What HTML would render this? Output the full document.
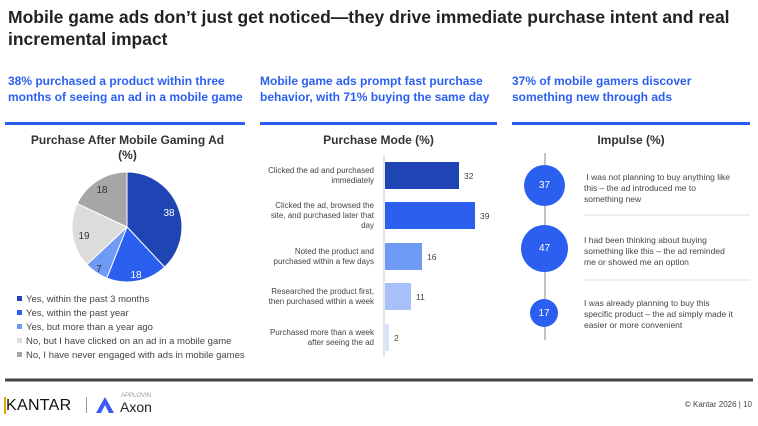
<!DOCTYPE html>
<html><head><meta charset="utf-8"><style>
body{margin:0;width:758px;height:426px;background:#fff;font-family:"Liberation Sans",Arial,sans-serif;position:relative;overflow:hidden}
.a{position:absolute}
h1{position:absolute;left:8px;top:6px;margin:0;font-size:17.5px;line-height:22px;font-weight:bold;color:#222;width:740px}
.sub{position:absolute;top:73px;font-size:12px;line-height:16px;font-weight:bold;color:#2b5ff0}
.bl{position:absolute;top:122px;height:3px;background:#2b5ff0}
.ct{position:absolute;font-size:12px;font-weight:bold;color:#333;text-align:center}
.lg{position:absolute;left:17px;font-size:9.5px;color:#444;white-space:nowrap}
.lg i{display:inline-block;width:5px;height:5px;margin-right:4px;vertical-align:1px}
.bt{position:absolute;right:384px;text-align:right;font-size:8px;line-height:10px;color:#444;width:112px}
.bar{position:absolute;left:385px;height:27px}
.bv{position:absolute;font-size:8.5px;color:#444}
.it{position:absolute;left:584px;font-size:8.5px;line-height:11px;color:#444;width:150px}
.c{position:absolute;border-radius:50%;background:#2b5ff0;color:#fff;font-size:10px;display:flex;align-items:center;justify-content:center}
</style></head><body>
<h1>Mobile game ads don’t just get noticed—they drive immediate purchase intent and real incremental impact</h1>
<div class="sub" style="left:8px;width:240px">38% purchased a product within three months of seeing an ad in a mobile game</div>
<div class="sub" style="left:260px;width:240px">Mobile game ads prompt fast purchase behavior, with 71% buying the same day</div>
<div class="sub" style="left:512px;width:240px">37% of mobile gamers discover something new through ads</div>
<div class="bl" style="left:5px;width:240px"></div>
<div class="bl" style="left:260px;width:237px"></div>
<div class="bl" style="left:512px;width:238px"></div>

<div class="ct" style="left:10px;width:235px;top:133px;line-height:15px">Purchase After Mobile Gaming Ad<br>(%)</div>
<svg class="a" style="left:0;top:0" width="758" height="426">
<g stroke="#fff" stroke-width="1">
<path d="M127 227 L127 172 A55 55 0 0 1 164.6 267.1Z" fill="#1f45b5"/>
<path d="M127 227 L164.6 267.1 A55 55 0 0 1 106.8 278.1Z" fill="#2b5ff0"/>
<path d="M127 227 L106.8 278.1 A55 55 0 0 1 86.9 264.6Z" fill="#6f9bf5"/>
<path d="M127 227 L86.9 264.6 A55 55 0 0 1 77.2 203.6Z" fill="#dcdcdc"/>
<path d="M127 227 L77.2 203.6 A55 55 0 0 1 127 172Z" fill="#a6a6a6"/>
</g>
<g font-family="Liberation Sans,Arial,sans-serif" font-size="10" text-anchor="middle">
<text x="169" y="216" fill="#fff">38</text>
<text x="136" y="278" fill="#fff">18</text>
<text x="99" y="272" fill="#333">7</text>
<text x="84" y="239" fill="#333">19</text>
<text x="102" y="193" fill="#333">18</text>
</g>
<line x1="384" y1="155" x2="384" y2="357" stroke="#ccc"/>
<line x1="545" y1="153" x2="545" y2="340" stroke="#888"/>
<line x1="584" y1="215" x2="750" y2="215" stroke="#ddd"/>
<line x1="584" y1="280" x2="750" y2="280" stroke="#ddd"/>
<line x1="5" y1="380" x2="753" y2="380" stroke="#444" stroke-width="3"/>
</svg>
<div class="lg" style="top:294px"><i style="background:#1f45b5"></i>Yes, within the past 3 months</div>
<div class="lg" style="top:308px"><i style="background:#2b5ff0"></i>Yes, within the past year</div>
<div class="lg" style="top:322px"><i style="background:#6f9bf5"></i>Yes, but more than a year ago</div>
<div class="lg" style="top:336px"><i style="background:#dcdcdc"></i>No, but I have clicked on an ad in a mobile game</div>
<div class="lg" style="top:350px"><i style="background:#a6a6a6"></i>No, I have never engaged with ads in mobile games</div>

<div class="ct" style="left:260px;width:237px;top:133px">Purchase Mode (%)</div>
<div class="bt" style="top:166px">Clicked the ad and purchased immediately</div>
<div class="bt" style="top:201px">Clicked the ad, browsed the site, and purchased later that day</div>
<div class="bt" style="top:247px">Noted the product and purchased within a few days</div>
<div class="bt" style="top:287px">Researched the product first, then purchased within a week</div>
<div class="bt" style="top:328px">Purchased more than a week after seeing the ad</div>
<div class="bar" style="top:162px;width:74px;background:#1f45b5"></div>
<div class="bar" style="top:202px;width:90px;background:#2b5ff0"></div>
<div class="bar" style="top:243px;width:37px;background:#6f9bf5"></div>
<div class="bar" style="top:283px;width:26px;background:#a7c1f8"></div>
<div class="bar" style="top:324px;width:4px;background:#d8e4fc"></div>
<div class="bv" style="left:464px;top:171px">32</div>
<div class="bv" style="left:480px;top:211px">39</div>
<div class="bv" style="left:427px;top:252px">16</div>
<div class="bv" style="left:416px;top:292px">11</div>
<div class="bv" style="left:394px;top:333px">2</div>

<div class="ct" style="left:512px;width:238px;top:133px">Impulse (%)</div>
<div class="c" style="left:524px;top:165px;width:41px;height:41px">37</div>
<div class="c" style="left:521px;top:225px;width:47px;height:47px">47</div>
<div class="c" style="left:530px;top:299px;width:28px;height:28px">17</div>
<div class="it" style="top:172px">&nbsp;I was not planning to buy anything like this – the ad introduced me to something new</div>
<div class="it" style="top:235px">I had been thinking about buying something like this – the ad reminded me or showed me an option</div>
<div class="it" style="top:298px">I was already planning to buy this specific product – the ad simply made it easier or more convenient</div>

<div class="a" style="left:4px;top:397px;font-size:16px;letter-spacing:0.3px;color:#111"><span style="border-left:2px solid #e0a800">KANTAR</span></div>
<div class="a" style="left:86px;top:397px;width:1px;height:16px;background:#999"></div>
<svg class="a" style="left:95px;top:396px" width="20" height="18"><path d="M10 1 L19 17 L14 17 L10 9 L6 17 L1 17Z" fill="#3b5bf0"/></svg>
<div class="a" style="left:121px;top:393px;font-size:6px;color:#999">APPLOVIN</div>
<div class="a" style="left:120px;top:399px;font-size:14px;color:#222">Axon</div>
<div class="a" style="right:6px;top:400px;font-size:8px;color:#444">© Kantar 2026 | 10</div>
</body></html>
